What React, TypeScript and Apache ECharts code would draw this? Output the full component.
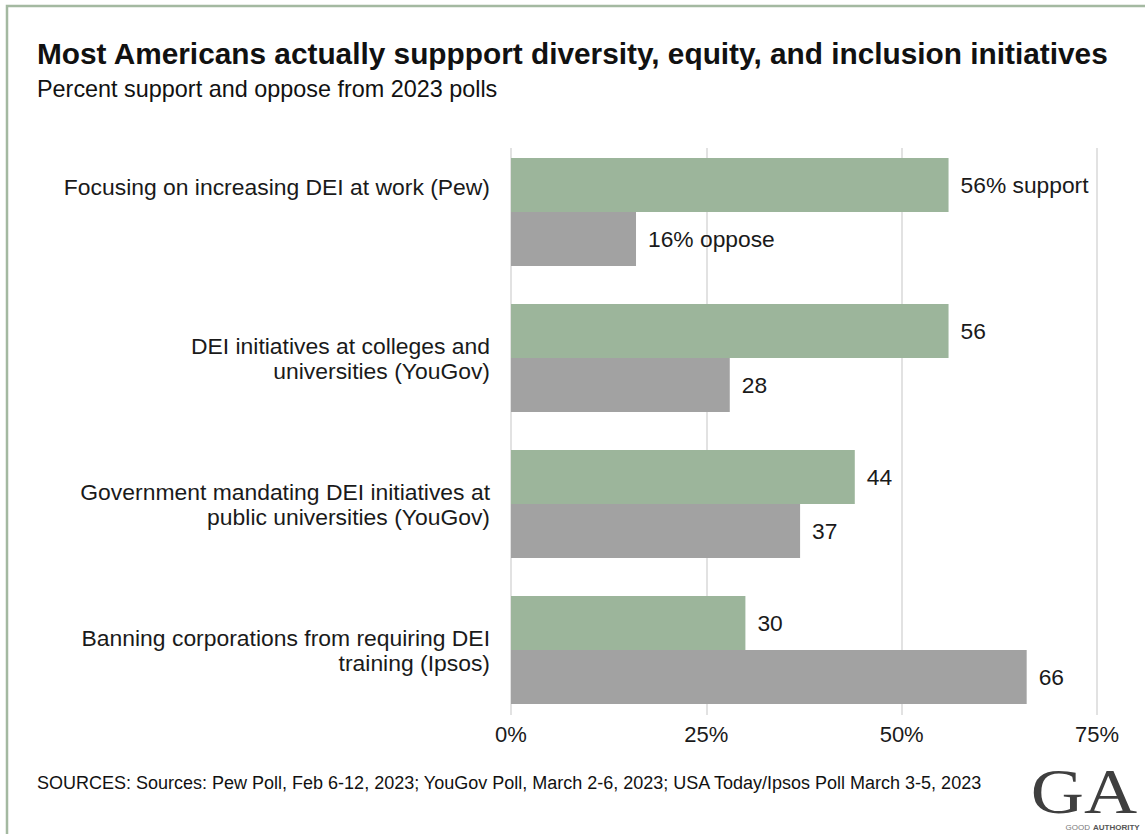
import React, { useEffect, useRef } from "react";
import * as echarts from "echarts";

const categories = [
  "Focusing on increasing DEI at work (Pew)",
  "DEI initiatives at colleges and\nuniversities (YouGov)",
  "Government mandating DEI initiatives at\npublic universities (YouGov)",
  "Banning corporations from requiring DEI\ntraining (Ipsos)",
];
const supportValues = [56, 56, 44, 30];
const opposeValues = [16, 28, 37, 66];
const supportSuffix = ["% support", "", "", ""];
const opposeSuffix = ["% oppose", "", "", ""];
const xTicks = [0, 25, 50, 75];

const TITLE = "Most Americans actually suppport diversity, equity, and inclusion initiatives";
const SUBTITLE = "Percent support and oppose from 2023 polls";
const SOURCE =
  "SOURCES: Sources: Pew Poll, Feb 6-12, 2023; YouGov Poll, March 2-6, 2023; USA Today/Ipsos Poll March 3-5, 2023";

const FONT = "Liberation Sans, Arial, Helvetica, sans-serif";

export default function App() {
  const ref = useRef<HTMLDivElement>(null);
  useEffect(() => {
    if (!ref.current) return;
    const chart = echarts.init(ref.current, undefined, { renderer: "svg" });
    const left = 511;
    const width = 586;
    chart.setOption({
      animation: false,
      backgroundColor: "#ffffff",
      textStyle: { fontFamily: FONT },
      grid: [
        { left, width, top: 148, height: 567 },
        { left, width, top: 139, height: 584 },
      ],
      xAxis: [
        {
          gridIndex: 0,
          type: "value",
          min: xTicks[0],
          max: xTicks[xTicks.length - 1],
          interval: 25,
          axisLine: { show: false },
          axisTick: { show: false },
          splitLine: { show: true, lineStyle: { color: "#e2e2e2", width: 2 } },
          axisLabel: {
            formatter: "{value}%",
            fontSize: 22,
            color: "#1a1a1a",
            margin: 8,
            fontFamily: FONT,
          },
        },
        {
          gridIndex: 1,
          type: "value",
          min: 0,
          max: 75,
          show: false,
        },
      ],
      yAxis: [
        {
          gridIndex: 0,
          type: "category",
          data: categories,
          show: false,
        },
        {
          gridIndex: 1,
          type: "category",
          data: categories,
          inverse: true,
          axisLine: { show: false },
          axisTick: { show: false },
          splitLine: { show: false },
          axisLabel: {
            fontSize: 22.9,
            lineHeight: 25,
            color: "#1a1a1a",
            align: "right",
            margin: 21,
            fontFamily: FONT,
            formatter: (v: string, i: number) => (i === 0 ? v + "\n\n" : v),
          },
        },
      ],
      series: [
        {
          type: "bar",
          xAxisIndex: 0,
          yAxisIndex: 0,
          data: [],
          silent: true,
        },
        {
          name: "Support",
          type: "bar",
          xAxisIndex: 1,
          yAxisIndex: 1,
          data: supportValues,
          barWidth: 54,
          barGap: "0%",
          itemStyle: { color: "#9cb59b" },
          label: {
            show: true,
            position: "right",
            distance: 12,
            fontSize: 22.8,
            color: "#1a1a1a",
            fontFamily: FONT,
            formatter: (p: any) => p.value + supportSuffix[p.dataIndex],
          },
        },
        {
          name: "Oppose",
          type: "bar",
          xAxisIndex: 1,
          yAxisIndex: 1,
          data: opposeValues,
          barWidth: 54,
          barGap: "0%",
          itemStyle: { color: "#a2a2a2" },
          label: {
            show: true,
            position: "right",
            distance: 12,
            fontSize: 22.8,
            color: "#1a1a1a",
            fontFamily: FONT,
            formatter: (p: any) => p.value + opposeSuffix[p.dataIndex],
          },
        },
      ],
      graphic: [
        {
          type: "rect",
          shape: { x: 7, y: 6, width: 1200, height: 900 },
          style: { fill: "none", stroke: "#a4b9a1", lineWidth: 2.5 },
          silent: true,
        },
        {
          type: "text",
          x: 37,
          y: 53,
          style: {
            text: TITLE,
            font: `bold 29.8px ${FONT}`,
            fill: "#111111",
            textVerticalAlign: "middle",
          },
        },
        {
          type: "text",
          x: 37,
          y: 89,
          style: {
            text: SUBTITLE,
            font: `23.4px ${FONT}`,
            fill: "#111111",
            textVerticalAlign: "middle",
          },
        },
        {
          type: "text",
          x: 37,
          y: 783,
          style: {
            text: SOURCE,
            font: `18px ${FONT}`,
            fill: "#111111",
            textVerticalAlign: "middle",
          },
        },
        {
          type: "text",
          x: 1084,
          y: 792,
          scaleX: 1.15,
          originX: 0,
          originY: 0,
          style: {
            text: "GA",
            font: `64px "Liberation Serif", "DejaVu Serif", serif`,
            fill: "#3f3f3f",
            textAlign: "center",
            textVerticalAlign: "middle",
          },
        },
        {
          type: "text",
          x: 1090,
          y: 827,
          style: {
            text: "GOOD",
            font: `8px ${FONT}`,
            fill: "#7a7a7a",
            textAlign: "right",
            textVerticalAlign: "middle",
          },
        },
        {
          type: "text",
          x: 1093,
          y: 827,
          style: {
            text: "AUTHORITY",
            font: `bold 8px ${FONT}`,
            fill: "#555555",
            textAlign: "left",
            textVerticalAlign: "middle",
          },
        },
      ],
    });
    return () => chart.dispose();
  }, []);
  return (
    <div
      ref={ref}
      style={{ position: "fixed", left: 0, top: 0, width: 1145, height: 834 }}
    />
  );
}
